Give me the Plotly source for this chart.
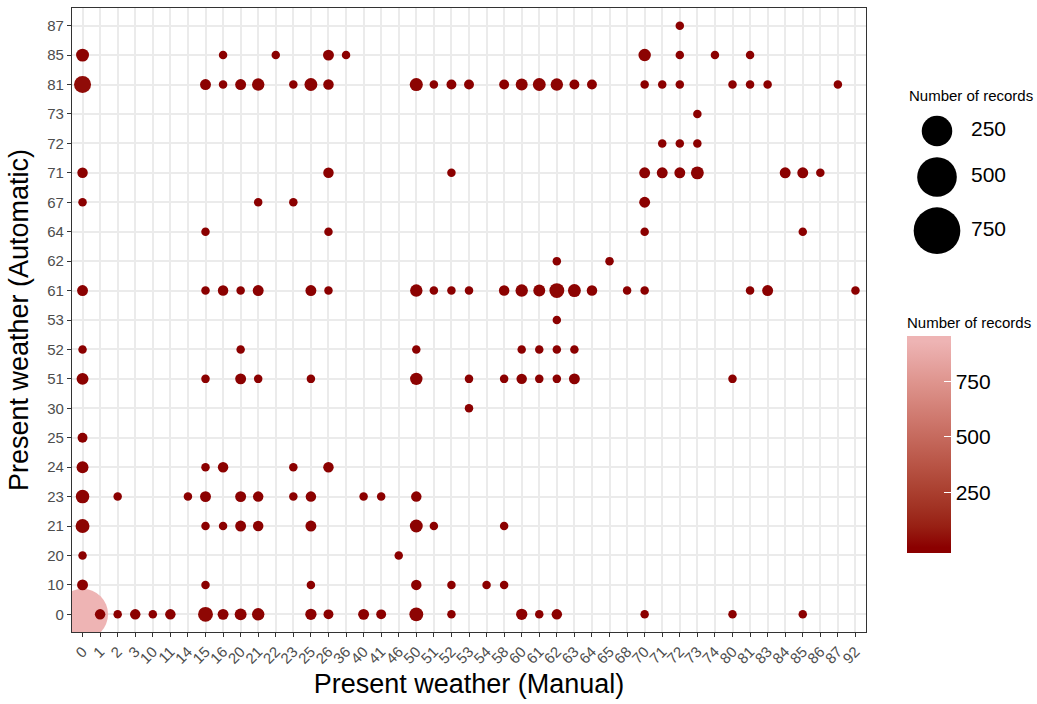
import math
import plotly.graph_objects as go

# Category orders for both axes
manual_levels = ["0", "1", "2", "3", "10", "11", "14", "15", "16", "20", "21", "22", "23",
                 "25", "26", "36", "40", "41", "46", "50", "51", "52", "53", "54", "58", "60",
                 "61", "62", "63", "64", "65", "68", "70", "71", "72", "73", "74", "80", "81",
                 "83", "84", "85", "86", "87", "92"]
auto_levels = ["0", "10", "20", "21", "23", "24", "25", "30", "51", "52", "53", "61", "62",
               "64", "67", "71", "72", "73", "81", "85", "87"]

# Cross-tabulated records: manual code, automatic code, count
manual_code = [
    "0", "1", "2", "3", "10", "11", "15", "16", "20", "21", "25", "26", "40", "41", "50", "52", "60", "61", "62", "70", "80", "85",
    "0", "15", "25", "50", "52", "54", "58",
    "0", "46",
    "0", "15", "16", "20", "21", "25", "50", "51", "58",
    "0", "2", "14", "15", "20", "21", "23", "25", "40", "41", "50",
    "0", "15", "16", "23", "26",
    "0",
    "53",
    "0", "15", "20", "21", "25", "50", "53", "58", "60", "61", "62", "63", "80",
    "0", "20", "50", "60", "61", "62", "63",
    "62",
    "0", "15", "16", "20", "21", "25", "26", "50", "51", "52", "53", "58", "60", "61", "62", "63", "64", "68", "70", "81", "83", "92",
    "62", "65",
    "15", "26", "70", "85",
    "0", "21", "23", "70",
    "0", "26", "52", "70", "71", "72", "73", "84", "85", "86",
    "71", "72", "73",
    "73",
    "0", "15", "16", "20", "21", "23", "25", "26", "50", "51", "52", "53", "58", "60", "61", "62", "63", "64", "70", "71", "72", "80", "81", "83", "87",
    "0", "16", "22", "26", "36", "70", "72", "74", "81",
    "72",
]
auto_code = (
    ["0"] * 22 + ["10"] * 7 + ["20"] * 2 + ["21"] * 9 + ["23"] * 11 + ["24"] * 5 + ["25"] * 1
    + ["30"] * 1 + ["51"] * 13 + ["52"] * 7 + ["53"] * 1 + ["61"] * 22 + ["62"] * 2 + ["64"] * 4
    + ["67"] * 4 + ["71"] * 10 + ["72"] * 3 + ["73"] * 1 + ["81"] * 25 + ["85"] * 9 + ["87"] * 1
)
records = [
    930, 3, 1, 3, 1, 3, 22, 4, 7, 9, 5, 2, 4, 2, 16, 1, 5, 1, 3, 1, 1, 1,
    4, 1, 1, 3, 1, 1, 1,
    1, 1,
    16, 1, 1, 4, 3, 4, 11, 1, 1,
    14, 1, 1, 4, 4, 3, 1, 3, 1, 1, 3,
    7, 1, 3, 1, 3,
    2,
    1,
    7, 1, 4, 1, 1, 9, 1, 1, 3, 1, 1, 4, 1,
    1, 1, 1, 1, 1, 1, 1,
    1,
    4, 1, 3, 1, 4, 4, 1, 9, 1, 1, 1, 3, 9, 7, 22, 11, 3, 1, 1, 1, 4, 1,
    1, 1,
    1, 1, 1, 1,
    1, 1, 1, 4,
    3, 3, 1, 4, 4, 4, 11, 4, 4, 1,
    1, 1, 1,
    1,
    38, 4, 1, 4, 9, 1, 11, 3, 12, 1, 2, 2, 2, 7, 11, 9, 2, 2, 1, 1, 1, 1, 1, 1, 1,
    11, 1, 1, 4, 1, 9, 1, 1, 1,
    1,
]

size_breaks = [250, 500, 750]
colour_breaks = [250, 500, 750]

FONT = "Liberation Sans, Arial, Helvetica, sans-serif"
LOW, HIGH = "#8B0000", "#EEB4B4"
VMIN, VMAX = 1, 930
D_MIN, D_MAX = 8.5, 51.0
NBIN = 20  # colour bar is built from this many bins, padded by half a bin at each end


def diameter(v):
    """Area-style size scale: diameter grows with sqrt of rescaled value."""
    t = max(0.0, (v - VMIN) / (VMAX - VMIN))
    return D_MIN + (D_MAX - D_MIN) * math.sqrt(t)


# --- colour gradient interpolated in CIELAB ---------------------------------
def _hex_to_rgb(h):
    h = h.lstrip("#")
    return [int(h[i:i + 2], 16) / 255 for i in (0, 2, 4)]


def _to_lin(c):
    return c / 12.92 if c <= 0.04045 else ((c + 0.055) / 1.055) ** 2.4


def _from_lin(c):
    c = 12.92 * c if c <= 0.0031308 else 1.055 * c ** (1 / 2.4) - 0.055
    return min(1, max(0, c))


def _rgb_to_lab(rgb):
    r, g, b = (_to_lin(c) for c in rgb)
    x = (0.4124 * r + 0.3576 * g + 0.1805 * b) / 0.95047
    y = (0.2126 * r + 0.7152 * g + 0.0722 * b)
    z = (0.0193 * r + 0.1192 * g + 0.9505 * b) / 1.08883
    f = lambda t: t ** (1 / 3) if t > 0.008856 else 7.787 * t + 16 / 116
    fx, fy, fz = f(x), f(y), f(z)
    return [116 * fy - 16, 500 * (fx - fy), 200 * (fy - fz)]


def _lab_to_hex(lab):
    L, a, b = lab
    fy = (L + 16) / 116
    fx = fy + a / 500
    fz = fy - b / 200
    finv = lambda t: t ** 3 if t ** 3 > 0.008856 else (t - 16 / 116) / 7.787
    x, y, z = finv(fx) * 0.95047, finv(fy), finv(fz) * 1.08883
    r = 3.2406 * x - 1.5372 * y - 0.4986 * z
    g = -0.9689 * x + 1.8758 * y + 0.0415 * z
    bb = 0.0557 * x - 0.2040 * y + 1.0570 * z
    return "#" + "".join(f"{round(_from_lin(c) * 255):02X}" for c in (r, g, bb))


# Half-bin padding so the bar runs slightly past the data limits
half_bin = (VMAX - VMIN) / (NBIN - 1) / 2
CMIN, CMAX = VMIN - half_bin, VMAX + half_bin
p_lo = (VMIN - CMIN) / (CMAX - CMIN)
p_hi = (VMAX - CMIN) / (CMAX - CMIN)

lab_lo, lab_hi = _rgb_to_lab(_hex_to_rgb(LOW)), _rgb_to_lab(_hex_to_rgb(HIGH))
colorscale = [[0.0, LOW]]
for i in range(11):
    t = i / 10
    colorscale.append([p_lo + (p_hi - p_lo) * t,
                       _lab_to_hex([lo + (hi - lo) * t for lo, hi in zip(lab_lo, lab_hi)])])
colorscale.append([1.0, HIGH])

# --- layout geometry (pixels) ---------------------------------------------
W, H = 1037, 704
ML, MR, MT, MB = 72, 0, 8, 72
PW, PH = W - ML - MR, H - MT - MB
PANEL_RIGHT = 866


def px_x(p):
    return (p - ML) / PW


def px_y(p):
    return (H - MB - p) / PH


fig = go.Figure()

fig.add_trace(go.Scatter(
    x=manual_code, y=auto_code, mode="markers",
    marker=dict(
        size=[diameter(v) for v in records],
        color=records, cmin=CMIN, cmax=CMAX, colorscale=colorscale,
        opacity=1, line=dict(width=0),
        colorbar=dict(
            title=dict(text="Number of records", side="top",
                       font=dict(family=FONT, size=15, color="#000000")),
            x=px_x(907), xanchor="left", xpad=0,
            y=px_y(433.5), yanchor="middle", ypad=0,
            len=239, lenmode="pixels", thickness=44, thicknessmode="pixels",
            outlinewidth=0, tickvals=colour_breaks, ticktext=[str(b) for b in colour_breaks],
            ticks="inside", ticklen=7, tickcolor="#FFFFFF", tickwidth=1,
            tickfont=dict(family=FONT, size=21, color="#000000"),
        ),
    ),
    showlegend=False, cliponaxis=True,
    hovertemplate="Manual %{x}<br>Automatic %{y}<br>%{marker.color}<extra></extra>",
))

# Size key drawn on its own small axes
key_y = [131, 177, 230.7]
fig.add_trace(go.Scatter(
    x=[937] * len(size_breaks), y=key_y, mode="markers", opacity=1,
    marker=dict(size=[diameter(v) for v in size_breaks], color="#000000", opacity=1,
                line=dict(width=0, color="#000000")),
    xaxis="x2", yaxis="y2", showlegend=False, hoverinfo="skip", cliponaxis=False,
))
fig.add_trace(go.Scatter(
    x=[971] * len(size_breaks), y=key_y, mode="text",
    text=[str(v) for v in size_breaks], textposition="middle right",
    textfont=dict(family=FONT, size=21, color="#000000"),
    xaxis="x2", yaxis="y2", showlegend=False, hoverinfo="skip", cliponaxis=False,
))

axis_common = dict(
    type="category", showgrid=True, gridcolor="#EBEBEB", gridwidth=1.5,
    showline=True, mirror=True, linecolor="#333333", linewidth=1.3,
    ticks="outside", ticklen=4, tickwidth=1.3, tickcolor="#333333",
    tickfont=dict(family=FONT, size=15, color="#4D4D4D"),
    zeroline=False, automargin=False, fixedrange=True,
)

fig.update_layout(
    width=W, height=H,
    margin=dict(l=ML, r=MR, t=MT, b=MB, pad=0),
    paper_bgcolor="#FFFFFF", plot_bgcolor="#FFFFFF",
    font=dict(family=FONT, color="#000000"),
    xaxis=dict(
        **axis_common, domain=[0, (PANEL_RIGHT - ML) / PW],
        categoryorder="array", categoryarray=manual_levels,
        tickmode="array", tickvals=manual_levels, ticktext=manual_levels,
        range=[-0.6, len(manual_levels) - 0.4], tickangle=-45,
        title=dict(text="Present weather (Manual)", standoff=8,
                   font=dict(family=FONT, size=27, color="#000000")),
    ),
    yaxis=dict(
        **axis_common, domain=[0, 1],
        categoryorder="array", categoryarray=auto_levels,
        tickmode="array", tickvals=auto_levels, ticktext=auto_levels,
        range=[-0.6, len(auto_levels) - 0.4],
        title=dict(text="Present weather (Automatic)", standoff=10,
                   font=dict(family=FONT, size=27, color="#000000")),
    ),
    xaxis2=dict(domain=[px_x(890), 1], range=[890, 1037], visible=False,
                fixedrange=True, anchor="y2"),
    yaxis2=dict(domain=[px_y(270), px_y(70)], range=[270, 70], visible=False,
                fixedrange=True, anchor="x2"),
    annotations=[dict(
        text="Number of records", xref="x2", yref="y2", x=907, y=96,
        xanchor="left", yanchor="middle", showarrow=False,
        font=dict(family=FONT, size=15, color="#000000"),
    )],
)

fig.write_html("out.html")
